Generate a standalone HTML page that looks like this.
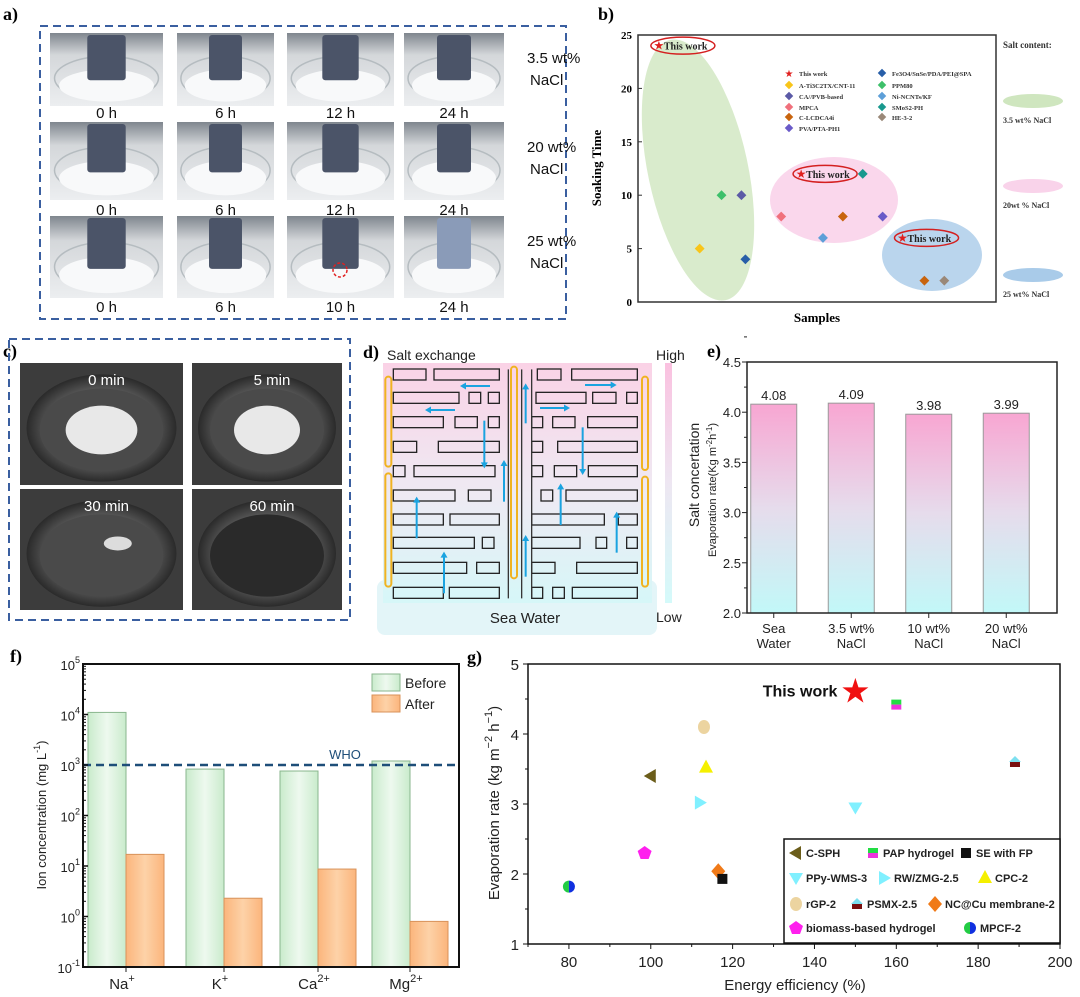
<!DOCTYPE html>
<html><head><meta charset="utf-8"><style>
html,body{margin:0;padding:0;background:#fff;}
svg{display:block;font-family:"Liberation Sans",sans-serif;}
.serif{font-family:"Liberation Serif",serif;font-weight:bold;}
</style></head><body>
<svg id="fig" width="1080" height="997" viewBox="0 0 1080 997" xmlns="http://www.w3.org/2000/svg">
<defs>
<linearGradient id="pinkcyan" x1="0" y1="0" x2="0" y2="1"><stop offset="0" stop-color="#f8a6d2"/><stop offset="0.5" stop-color="#e6dcec"/><stop offset="1" stop-color="#c2f8f8"/></linearGradient>
<linearGradient id="dbg" x1="0" y1="0" x2="0" y2="1"><stop offset="0" stop-color="#fad2e6"/><stop offset="0.55" stop-color="#eeeaf3"/><stop offset="1" stop-color="#d6f7f8"/></linearGradient>
<linearGradient id="greenbar" x1="0" y1="0" x2="1" y2="0"><stop offset="0" stop-color="#c9ebcc"/><stop offset="0.5" stop-color="#eef9ef"/><stop offset="1" stop-color="#c9ebcc"/></linearGradient>
<linearGradient id="orangebar" x1="0" y1="0" x2="1" y2="0"><stop offset="0" stop-color="#fbb57c"/><stop offset="0.5" stop-color="#fdd2a8"/><stop offset="1" stop-color="#fbb57c"/></linearGradient>
<radialGradient id="dish" cx="0.5" cy="0.5" r="0.5"><stop offset="0" stop-color="#9a9a9a"/><stop offset="0.7" stop-color="#5a5a5a"/><stop offset="1" stop-color="#2a2a2a"/></radialGradient>
<linearGradient id="photo" x1="0" y1="0" x2="0" y2="1"><stop offset="0" stop-color="#7f868e"/><stop offset="0.3" stop-color="#d4d7da"/><stop offset="1" stop-color="#eceef0"/></linearGradient>
</defs>

<g id="panel-a">
<text class="serif" x="3" y="20" font-size="18">a)</text>
<rect x="40" y="26" width="526" height="293" fill="none" stroke="#3a5fa0" stroke-width="2" stroke-dasharray="8,5"/>
</g>

<g id="panel-b">
<text class="serif" x="598" y="20" font-size="18">b)</text>
</g>

<g id="panel-c">
<text class="serif" x="3" y="357" font-size="18">c)</text>
<rect x="9" y="339" width="341" height="281" fill="none" stroke="#3a5fa0" stroke-width="2" stroke-dasharray="8,5"/>
</g>

<g id="panel-d">
<text class="serif" x="363" y="358" font-size="18">d)</text>
<text x="387" y="360" font-size="14" fill="#222">Salt exchange</text>
<rect x="377" y="580" width="280" height="55" rx="8" fill="#e3f5f8"/>
<rect x="383" y="363" width="269" height="240" fill="url(#dbg)"/>
<text x="525" y="623" font-size="15" fill="#222" text-anchor="middle">Sea Water</text>
<rect x="665" y="363" width="7" height="240" fill="url(#pinkcyan)" opacity="0.7"/>
<text x="656" y="360" font-size="14" fill="#222">High</text>
<text x="656" y="622" font-size="14" fill="#222">Low</text>
<text transform="translate(699,475) rotate(-90)" font-size="14" fill="#222" text-anchor="middle">Salt concertation</text>
</g>

<g id="panel-e">
<text class="serif" x="707" y="357" font-size="18">e)</text>
</g>

<g id="panel-f">
<text class="serif" x="10" y="662" font-size="18">f)</text>
</g>

<g id="panel-g">
<text class="serif" x="467" y="663" font-size="18">g)</text>
</g>
</svg>
<script>
const NS="http://www.w3.org/2000/svg";
function mk(parent,tag,attrs,text){const e=document.createElementNS(NS,tag);for(const k in attrs)e.setAttribute(k,attrs[k]);if(text!==undefined)e.textContent=text;parent.appendChild(e);return e;}

/* ---------- Panel a photos ---------- */
const aTimes=[["0 h","6 h","12 h","24 h"],["0 h","6 h","12 h","24 h"],["0 h","6 h","10 h","24 h"]];
const aSalts=[["3.5 wt%","NaCl"],["20 wt%","NaCl"],["25 wt%","NaCl"]];
(function(){
 const g=document.getElementById('panel-a');
 const cols=[[50,163],[177,274],[287,394],[404,504]];
 const rows=[[33,106],[122,200],[216,298]];
 const labY=[118,215,312];
 rows.forEach((r,ri)=>{
  cols.forEach((c,ci)=>{
   const w=c[1]-c[0],h=r[1]-r[0];
   const p=mk(g,'rect',{x:c[0],y:r[0],width:w,height:h,fill:'url(#photo)'});
   
   
   const gl=mk(g,'ellipse',{cx:c[0]+w/2,cy:r[0]+h*0.62,rx:w*0.46,ry:h*0.3,fill:'none',stroke:'#b5bcc0','stroke-width':1.5});
   
   
   const s=mk(g,'ellipse',{cx:c[0]+w/2,cy:r[0]+h*0.72,rx:w*0.42,ry:h*0.22,fill:'#f8f9fa'});
   
   
   const cy=mk(g,'rect',{x:c[0]+w*0.33,y:r[0]+2,width:w*0.34,height:h*0.62,fill:ri==2&&ci==3?'#8a9bb8':'#4b5468',rx:3});
   
   
   const t=mk(g,'text',{x:c[0]+w/2,y:labY[ri],'font-size':15,'text-anchor':'middle',fill:'#111'},aTimes[ri][ci]);
   
   
  });
  const s1=mk(g,'text',{x:527,y:r[0]+30,'font-size':15,fill:'#111'},aSalts[ri][0]);
  
  
  mk(g,'text',{x:530,y:r[0]+52,'font-size':15,fill:'#111'},aSalts[ri][1]);
 });
 const rc=mk(g,'circle',{cx:340,cy:270,r:7,fill:'none',stroke:'#e02020','stroke-dasharray':'3,2','stroke-width':1.5});
 
 
})();

/* ---------- Panel b ---------- */
const bNames=["This work","A-Ti3C2TX/CNT-11","CA//PVB-based","MPCA","C-LCDCA4i","PVA/PTA-PH1","Fe3O4/SnSe/PDA/PEI@SPA","PPM80","Ni-NCNTs/KF","SMoS2-PH","HE-3-2"];
const bColors=["#e0201f","#f8c51a","#5b5aa6","#f0707c","#c8640e","#6a5ac8","#285ea8","#3dc06a","#5d9fd8","#18998e","#9a8878"];
const bSampleX=[1.05,3.1,4.2,5.2,5.4,7.2,8.2,9.3,10.3,11.3,12.3,13.3,14.4,15.4];
const bSoakTime=[24,5,10,10,4,8,12,6,8,12,8,6,2,2];
const bSeries=[0,1,7,2,6,3,0,8,4,9,5,0,4,10];
const bYTicks=[0,5,10,15,20,25];
(function(){
 const g=document.getElementById('panel-b');
 const L=638,R=996,T=35,B=302;
 const X=v=>L+(v/18)*(R-L), Y=v=>B-(v/25)*(B-T);
 const e1=mk(g,'ellipse',{cx:698,cy:170,rx:50,ry:133,fill:'#cfe6bf',opacity:0.8,transform:'rotate(-12 698 170)'});
 
 
 const e2=mk(g,'ellipse',{cx:834,cy:200,rx:64,ry:43,fill:'#f9d3ea',opacity:0.9});
 
 
 const e3=mk(g,'ellipse',{cx:932,cy:255,rx:50,ry:36,fill:'#a9cbe9',opacity:0.8});
 
 
 const fr=mk(g,'rect',{x:L,y:T,width:R-L,height:B-T,fill:'none',stroke:'#333','stroke-width':1.5});
 
 
 bYTicks.forEach(t=>{
  mk(g,'line',{x1:L,x2:L+4,y1:Y(t),y2:Y(t),stroke:'#333'});
  const tx=mk(g,'text',{x:L-6,y:Y(t)+4,'font-size':11,'text-anchor':'end',class:'serif'},t);
  
  
 });
 const yt=mk(g,'text',{transform:'translate(601,168) rotate(-90)','font-size':13,'text-anchor':'middle',class:'serif'},'Soaking Time');
 
 
 const xt=mk(g,'text',{x:817,y:322,'font-size':13,'text-anchor':'middle',class:'serif'},'Samples');
 
 
 bSampleX.forEach((sx,i)=>{
  const cx=X(sx),cy=Y(bSoakTime[i]),col=bColors[bSeries[i]];
  if(bSeries[i]===0){
   const st=mk(g,'text',{x:cx,y:cy+4,'font-size':12,'text-anchor':'middle',fill:col},'★');
   
   
   const lb=mk(g,'text',{x:cx+5,y:cy+4,'font-size':10,class:'serif',fill:'#222'},'This work');
   
   
   const ov=mk(g,'ellipse',{cx:cx+24,cy:cy,rx:32,ry:8.5,fill:'none',stroke:'#d42020','stroke-width':1.5});
   
   
  } else {
   const d=mk(g,'rect',{x:cx-3.5,y:cy-3.5,width:7,height:7,fill:col,transform:`rotate(45 ${cx} ${cy})`});
   
   
  }
 });
 const ly=[73,85,96,107,117,128];
 bNames.forEach((n,i)=>{
  const col=i<6?0:1, row=i<6?i:i-6;
  const mx=col?882:789, y=ly[row];
  if(i===0){mk(g,'text',{x:mx,y:y+4,'font-size':10,'text-anchor':'middle',fill:bColors[0]},'★');}
  else{mk(g,'rect',{x:mx-3,y:y-3,width:6,height:6,fill:bColors[i],transform:`rotate(45 ${mx} ${y})`});}
  const t=mk(g,'text',{x:mx+10,y:y+3,'font-size':6.5,class:'serif',fill:'#333'},n);
  
  
 });
 const sc=mk(g,'text',{x:1003,y:48,'font-size':9,class:'serif',fill:'#333'},'Salt content:');
 
 
 [[101,'#cfe6bf','3.5 wt% NaCl'],[186,'#f9d3ea','20wt % NaCl'],[275,'#a9cbe9','25 wt% NaCl']].forEach(s=>{
  mk(g,'ellipse',{cx:1033,cy:s[0],rx:30,ry:7,fill:s[1]});
  const t=mk(g,'text',{x:1003,y:s[0]+22,'font-size':8,class:'serif',fill:'#333'},s[2]);
  
  
 });
})();

/* ---------- Panel c ---------- */
const cTimes=["0 min","5 min","30 min","60 min"];
(function(){
 const g=document.getElementById('panel-c');
 const boxes=[[20,363,163,122],[192,363,150,122],[20,489,163,121],[192,489,150,121]];
 boxes.forEach((b,i)=>{
  const r=mk(g,'rect',{x:b[0],y:b[1],width:b[2],height:b[3],fill:'#3c3c3c'});
  
  
  mk(g,'ellipse',{cx:b[0]+b[2]/2,cy:b[1]+b[3]/2+4,rx:b[2]*0.46,ry:b[3]*0.44,fill:'url(#dish)'});
  mk(g,'ellipse',{cx:b[0]+b[2]/2,cy:b[1]+b[3]/2+6,rx:b[2]*0.38,ry:b[3]*0.34,fill:i==3?'#2a2a2a':'#4a4a4a'});
  if(i<2) mk(g,'ellipse',{cx:b[0]+b[2]/2,cy:b[1]+b[3]/2+6,rx:b[2]*0.22,ry:b[3]*0.2,fill:'#e8e8e8'});
  if(i==2) mk(g,'ellipse',{cx:b[0]+b[2]*0.6,cy:b[1]+b[3]*0.45,rx:14,ry:7,fill:'#dcdcdc'});
  const t=mk(g,'text',{x:b[0]+b[2]/2+5,y:b[1]+22,'font-size':15,'text-anchor':'middle',fill:'#fff'},cTimes[i]);
  
  
 });
})();

/* ---------- Panel d diagram ---------- */
(function(){
 const g=document.getElementById('panel-d');
 const X=z=>360+z/3, Y=z=>330+z/3;
 const rowsY=[135,205,278,352,425,498,570,640,715,790];
 const blocks=[
  [[100,198],[222,418],[532,603],[635,832]],
  [[100,297],[327,362],[385,418],[528,678],[698,768],[800,832]],
  [[100,250],[285,352],[385,418],[515,548],[578,645],[683,832]],
  [[100,170],[235,418],[515,548],[593,832]],
  [[100,135],[162,405],[515,548],[583,650],[685,832]],
  [[100,285],[325,393],[543,578],[618,832]],
  [[100,250],[270,418],[515,733],[775,832]],
  [[100,343],[367,402],[515,660],[708,740],[800,832]],
  [[100,320],[350,418],[515,585],[650,832]],
  [[100,250],[268,418],[515,548],[578,613],[637,832]]];
 blocks.forEach((row,ri)=>row.forEach(b=>{
  const r=mk(g,'rect',{x:X(b[0]),y:Y(rowsY[ri])-6,width:(b[1]-b[0])/3,height:11,fill:'none',stroke:'#222','stroke-width':1.3});
  
  
 }));
 [445,485,515].forEach(z=>mk(g,'line',{x1:X(z),x2:X(z),y1:Y(118),y2:Y(805),stroke:'#333','stroke-width':1.3}));
 [[85,140,410],[85,430,770],[462,110,745],[855,140,420],[855,440,770]].forEach(c=>{
  const r=mk(g,'rect',{x:X(c[0])-3,y:Y(c[1]),width:6,height:(c[2]-c[1])/3,rx:3,fill:'none',stroke:'#f0b321','stroke-width':2});
  
  
 });
 const arrows=[[390,168,300,168],[285,240,195,240],[373,272,373,415],[432,515,432,390],[170,625,170,500],[252,790,252,665],[497,280,497,160],[497,740,497,615],[540,234,630,234],[675,165,770,165],[668,292,668,435],[602,585,602,460],[770,668,770,545]];
 arrows.forEach(a=>{
  const x1=X(a[0]),y1=Y(a[1]),x2=X(a[2]),y2=Y(a[3]);
  const ang=Math.atan2(y2-y1,x2-x1);
  const l=mk(g,'line',{x1,y1,x2:x2-Math.cos(ang)*4,y2:y2-Math.sin(ang)*4,stroke:'#1aa3e0','stroke-width':2});
  
  
  const h=6,w=3.5;
  const p=[[x2,y2],[x2-h*Math.cos(ang)+w*Math.sin(ang),y2-h*Math.sin(ang)-w*Math.cos(ang)],[x2-h*Math.cos(ang)-w*Math.sin(ang),y2-h*Math.sin(ang)+w*Math.cos(ang)]];
  mk(g,'polygon',{points:p.map(q=>q.join(',')).join(' '),fill:'#1aa3e0'});
 });
})();

/* ---------- Panel e ---------- */
const eCats=[["Sea","Water"],["3.5 wt%","NaCl"],["10 wt%","NaCl"],["20 wt%","NaCl"]];
const eValues=[4.08,4.09,3.98,3.99];
const eTicks=[2.0,2.5,3.0,3.5,4.0,4.5];
(function(){
 const g=document.getElementById('panel-e');
 const L=747,R=1057,T=362,B=613;
 const Y=v=>B-(v-2)/2.5*(B-T);
 const bw=(R-L)/4;
 const X=i=>L+bw*(i+0.5)-12;
 eValues.forEach((v,i)=>{
  const r=mk(g,'rect',{x:X(i)-23,y:Y(v),width:46,height:B-Y(v),fill:'url(#pinkcyan)',stroke:'#999','stroke-width':1});
  
  
  const t=mk(g,'text',{x:X(i),y:Y(v)-4,'font-size':13,'text-anchor':'middle',fill:'#222'},v.toFixed(2));
  
  
  const c1=mk(g,'text',{x:X(i),y:B+20,'font-size':13,'text-anchor':'middle',fill:'#222'},eCats[i][0]);
  
  
  mk(g,'text',{x:X(i),y:B+35,'font-size':13,'text-anchor':'middle',fill:'#222'},eCats[i][1]);
  mk(g,'line',{x1:X(i),x2:X(i),y1:B,y2:B+5,stroke:'#222'});
 });
 const fr=mk(g,'rect',{x:L,y:T,width:R-L,height:B-T,fill:'none',stroke:'#222','stroke-width':1.5});
 
 
 eTicks.forEach(t=>{
  mk(g,'line',{x1:L-5,x2:L,y1:Y(t),y2:Y(t),stroke:'#222'});
  mk(g,'line',{x1:L-3,x2:L,y1:Y(t+0.25),y2:Y(t+0.25),stroke:'#222'});
  const tx=mk(g,'text',{x:L-6,y:Y(t)+5,'font-size':13,'text-anchor':'end',fill:'#222'},t.toFixed(1));
  
  
 });
 const yt=mk(g,'text',{transform:'translate(716,490) rotate(-90)','font-size':11,'text-anchor':'middle',fill:'#222'});
 yt.innerHTML='Evaporation rate(Kg m<tspan dy="-4" font-size="8">-2</tspan><tspan dy="4">h</tspan><tspan dy="-4" font-size="8">-1</tspan><tspan dy="4">)</tspan>';
 
 
})();

/* ---------- Panel f ---------- */
const fIons=["Na","K","Ca","Mg"];
const fIonCharge=["+","+","2+","2+"];
const fBefore=[11000,830,760,1200];
const fAfter=[17,2.3,8.7,0.8];
const fWHO=1000;
const fExp=[-1,0,1,2,3,4,5];
(function(){
 const g=document.getElementById('panel-f');
 const L=83,R=459,T=664,B=967;
 const Y=v=>B-(Math.log10(v)+1)/6*(B-T);
 const gw=(R-L)/4;
 const C=i=>L+gw*(i+0.5)+(i==0?-4:(i==3?-2:0));
 fBefore.forEach((v,i)=>{
  const r=mk(g,'rect',{x:C(i)-38,y:Y(v),width:38,height:B-Y(v),fill:'url(#greenbar)',stroke:'#8ab68e','stroke-width':1});
  
  
  const a=mk(g,'rect',{x:C(i),y:Y(fAfter[i]),width:38,height:B-Y(fAfter[i]),fill:'url(#orangebar)',stroke:'#d8925a','stroke-width':1});
  
  
  const t=mk(g,'text',{x:C(i)-4,y:B+22,'font-size':15,'text-anchor':'middle',fill:'#222'});
  t.innerHTML=fIons[i]+'<tspan dy="-7" font-size="11">'+fIonCharge[i]+'</tspan>';
  
  
  mk(g,'line',{x1:C(i),x2:C(i),y1:B,y2:B+5,stroke:'#222'});
 });
 const w=mk(g,'line',{x1:L,x2:R,y1:Y(fWHO),y2:Y(fWHO),stroke:'#1e4e79','stroke-width':2.5,'stroke-dasharray':'8,5'});
 
 
 const wt=mk(g,'text',{x:345,y:759,'font-size':13,'text-anchor':'middle',fill:'#1e4e79'},'WHO');
 
 
 const fr=mk(g,'rect',{x:L,y:T,width:R-L,height:B-T,fill:'none',stroke:'#111','stroke-width':2});
 
 
 fExp.forEach(e=>{
  const y=Y(Math.pow(10,e));
  mk(g,'line',{x1:L,x2:L+5,y1:y,y2:y,stroke:'#111','stroke-width':1.5});
  if(e<5) for(let k=2;k<10;k++){const yy=Y(k*Math.pow(10,e));mk(g,'line',{x1:L,x2:L+3,y1:yy,y2:yy,stroke:'#111'});}
  const t=mk(g,'text',{x:L-3,y:y+6,'font-size':13,'text-anchor':'end',fill:'#222'});
  t.innerHTML='10<tspan dy="-7" font-size="9">'+e+'</tspan>';
  
  
 });
 const yt=mk(g,'text',{transform:'translate(46,815) rotate(-90)','font-size':13,'text-anchor':'middle',fill:'#222'});
 yt.innerHTML='Ion concentration (mg L<tspan dy="-6" font-size="9">-1</tspan><tspan dy="6">)</tspan>';
 
 
 [[674,'url(#greenbar)','#8ab68e','Before'],[695,'url(#orangebar)','#d8925a','After']].forEach(l=>{
  mk(g,'rect',{x:372,y:l[0],width:28,height:17,fill:l[1],stroke:l[2]});
  const t=mk(g,'text',{x:405,y:l[0]+14,'font-size':14,fill:'#222'},l[3]);
  
  
 });
})();

/* ---------- Panel g ---------- */
const gNames=["This work","PAP hydrogel","rGP-2","CPC-2","C-SPH","RW/ZMG-2.5","PPy-WMS-3","PSMX-2.5","biomass-based hydrogel","NC@Cu membrane-2","SE with FP","MPCF-2"];
const gEfficiency=[150,160,113,113.5,100,112,150,189,98.5,116.5,117.5,80];
const gRate=[4.62,4.42,4.1,3.52,3.4,3.02,2.95,3.6,2.3,2.04,1.93,1.82];
const gXTicks=[80,100,120,140,160,180,200];
const gYTicks=[1,2,3,4,5];
(function(){
 const g=document.getElementById('panel-g');
 const L=528,R=1060,T=664,B=944;
 const X=v=>L+(v-70)/130*(R-L), Y=v=>B-(v-1)/4*(B-T);
 function marker(name,cx,cy){
  let e;
  switch(name){
   case "This work": e=mk(g,'text',{x:cx,y:cy+12,'font-size':34,'text-anchor':'middle',fill:'#f01010'},'★'); break;
   case "PAP hydrogel": e=mk(g,'g',{}); mk(e,'rect',{x:cx-5,y:cy-5,width:10,height:5,fill:'#22dd44'}); mk(e,'rect',{x:cx-5,y:cy,width:10,height:5,fill:'#ee33dd'}); break;
   case "rGP-2": e=mk(g,'ellipse',{cx,cy,rx:6,ry:7,fill:'#ecd4a0'}); break;
   case "CPC-2": e=mk(g,'polygon',{points:`${cx},${cy-8} ${cx-7},${cy+5} ${cx+7},${cy+5}`,fill:'#f5f000'}); break;
   case "C-SPH": e=mk(g,'polygon',{points:`${cx-7},${cy} ${cx+5},${cy-7} ${cx+5},${cy+7}`,fill:'#6b5d1a'}); break;
   case "RW/ZMG-2.5": e=mk(g,'polygon',{points:`${cx+7},${cy} ${cx-5},${cy-7} ${cx-5},${cy+7}`,fill:'#80f0ff'}); break;
   case "PPy-WMS-3": e=mk(g,'polygon',{points:`${cx},${cy+7} ${cx-7},${cy-5} ${cx+7},${cy-5}`,fill:'#80f0ff'}); break;
   case "PSMX-2.5": e=mk(g,'g',{}); mk(e,'polygon',{points:`${cx-6},${cy} ${cx},${cy-6} ${cx+6},${cy}`,fill:'#7de0f0'}); mk(e,'rect',{x:cx-5,y:cy,width:10,height:5,fill:'#7a1010'}); break;
   case "biomass-based hydrogel": e=mk(g,'polygon',{points:`${cx},${cy-7} ${cx+7},${cy-2} ${cx+4},${cy+6} ${cx-4},${cy+6} ${cx-7},${cy-2}`,fill:'#ff20ee'}); break;
   case "NC@Cu membrane-2": e=mk(g,'polygon',{points:`${cx},${cy-8} ${cx+7},${cy} ${cx},${cy+8} ${cx-7},${cy}`,fill:'#f07a18'}); break;
   case "SE with FP": e=mk(g,'rect',{x:cx-5,y:cy-5,width:10,height:10,fill:'#111'}); break;
   case "MPCF-2": e=mk(g,'g',{}); mk(e,'path',{d:`M${cx},${cy-6} A6,6 0 0 0 ${cx},${cy+6} Z`,fill:'#22cc44'}); mk(e,'path',{d:`M${cx},${cy-6} A6,6 0 0 1 ${cx},${cy+6} Z`,fill:'#1030e0'}); break;
  }
  return e;
 }
 gEfficiency.forEach((v,i)=>{
  const m=marker(gNames[i],X(v),Y(gRate[i]));
  
  
 });
 const tw=mk(g,'text',{x:X(150)-18,y:Y(4.62)+6,'font-size':16,'font-weight':'bold','text-anchor':'end',fill:'#111'},'This work');
 
 
 const fr=mk(g,'rect',{x:L,y:T,width:R-L,height:B-T,fill:'none',stroke:'#111','stroke-width':1.5});
 
 
 gXTicks.forEach(t=>{
  mk(g,'line',{x1:X(t),x2:X(t),y1:B,y2:B+5,stroke:'#111'});
  mk(g,'line',{x1:X(t-10),x2:X(t-10),y1:B,y2:B+3,stroke:'#111'});
  const tx=mk(g,'text',{x:X(t),y:B+23,'font-size':15,'text-anchor':'middle',fill:'#222'},t);
  
  
 });
 gYTicks.forEach(t=>{
  mk(g,'line',{x1:L-5,x2:L,y1:Y(t),y2:Y(t),stroke:'#111'});
  if(t<5) mk(g,'line',{x1:L-3,x2:L,y1:Y(t+0.5),y2:Y(t+0.5),stroke:'#111'});
  const tx=mk(g,'text',{x:L-9,y:Y(t)+6,'font-size':15,'text-anchor':'end',fill:'#222'},t);
  
  
 });
 const xt=mk(g,'text',{x:795,y:990,'font-size':15,'text-anchor':'middle',fill:'#222'},'Energy efficiency (%)');
 
 
 const yt=mk(g,'text',{transform:'translate(499,803) rotate(-90)','font-size':15,'text-anchor':'middle',fill:'#222'});
 yt.innerHTML='Evaporation rate (kg m<tspan dy="-7" font-size="11">−2</tspan><tspan dy="7"> h</tspan><tspan dy="-7" font-size="11">−1</tspan><tspan dy="7">)</tspan>';
 
 
 const lg=mk(g,'rect',{x:784,y:839,width:276,height:104,fill:'#fff',stroke:'#111','stroke-width':1.5});
 
 
 const legRows=[[["C-SPH",796],["PAP hydrogel",873],["SE with FP",966]],[["PPy-WMS-3",796],["RW/ZMG-2.5",884],["CPC-2",985]],[["rGP-2",796],["PSMX-2.5",857],["NC@Cu membrane-2",935]],[["biomass-based hydrogel",796],["MPCF-2",970]]];
 const legY=[853,878,904,928];
 legRows.forEach((row,ri)=>row.forEach(it=>{
  marker(it[0],it[1],legY[ri]);
  const t=mk(g,'text',{x:it[1]+10,y:legY[ri]+4,'font-size':11,'font-weight':'bold',fill:'#222'},it[0]);
  
  
 }));
})();
</script>
</body></html>
